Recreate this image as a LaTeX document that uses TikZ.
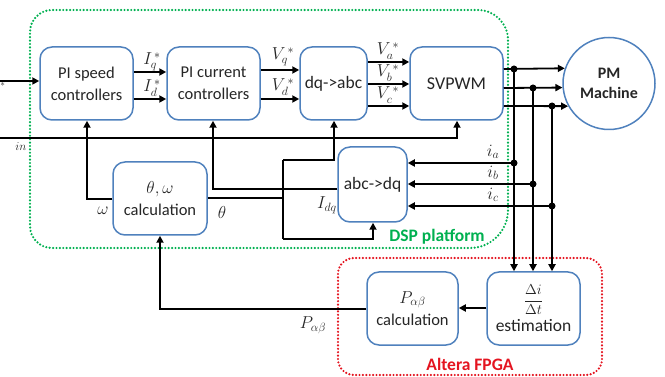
\documentclass[tikz,border=0pt]{standalone}
\usepackage{fontspec}
\setmainfont{Carlito}
\usetikzlibrary{arrows.meta}
\definecolor{boxblue}{RGB}{79,129,189}
\definecolor{dspgreen}{RGB}{0,176,80}
\definecolor{fpgared}{RGB}{228,20,32}
\definecolor{txt}{RGB}{38,38,38}
\begin{document}
\begin{tikzpicture}[x=1pt,y=-1pt,
  blk/.style={draw=boxblue, line width=1.5pt, rounded corners=12pt, fill=white,
    align=center, inner sep=0pt, text=txt, font=\fontsize{16.5}{22}\selectfont},
  arr/.style={line width=1.8pt, -{Triangle[length=7pt,width=7pt]}},
  ln/.style={line width=1.8pt},
  lab/.style={font=\fontsize{17}{19}\selectfont, inner sep=0pt, text=txt},
  jdot/.style={circle, fill=black, inner sep=0pt, minimum size=7pt},
  dsp/.style={dspgreen, line width=2.4pt, line cap=round, dash pattern=on 0pt off 3.4pt},
  fpga/.style={fpgared, line width=2.4pt, line cap=round, dash pattern=on 0pt off 3.4pt},
  grp/.style={font=\fontsize{17.5}{20}\selectfont\bfseries, inner sep=0pt}]
\useasboundingbox (0,0) rectangle (665,377);

% group frames
\draw[dsp] (30,100) [rounded corners=22pt] -- (30,10) [rounded corners=30pt] -- (508,10)
  [rounded corners=38pt] -- (508,248) [rounded corners=22pt] -- (30,248) -- cycle;
\draw[fpga, rounded corners=16pt] (338,258) rectangle (602,375);
\node[grp, text=dspgreen] (dsplab) at (437,237) {DSP platform};
\node[grp, text=fpgared] (fpgalab) at (470,364) {Altera FPGA};

% blocks
\node[blk, minimum width=93pt, minimum height=73pt] (ps) at (86.5,83.5) {PI speed\\controllers};
\node[blk, minimum width=93pt, minimum height=73pt] (pc) at (213.5,83.5) {PI current\\controllers};
\node[blk, minimum width=67pt, minimum height=73pt, font=\fontsize{17.5}{22}\selectfont] (dq) at (333.5,83.5) {dq->abc};
\node[blk, minimum width=93pt, minimum height=73pt, font=\fontsize{18}{22}\selectfont] (sv) at (456.5,83.5) {SVPWM};
\node[blk, circle, minimum size=92pt, font=\fontsize{16}{20}\selectfont\bfseries] (pm) at (609,83.5) {PM\\Machine};
\node[blk, minimum width=94pt, minimum height=73pt] (tw) at (160,198.5) {$\theta,\omega$\\calculation};
\node[blk, minimum width=69pt, minimum height=75pt, font=\fontsize{17.5}{22}\selectfont] (ad) at (372.5,184.5) {abc->dq};
\node[blk, minimum width=91pt, minimum height=73pt] (pcal) at (412.5,308.5) {$P_{\alpha\beta}$\\calculation};
\node[blk, minimum width=93pt, minimum height=73pt, font=\fontsize{17.5}{21}\selectfont] (est) at (533.5,308.5) {{\fontsize{14}{14}\selectfont$\displaystyle\frac{\Delta i}{\Delta t}$}\\[4pt]estimation};

% coordinates
\coordinate (win) at (0,81);
\coordinate (vin) at (0,138);
\coordinate (d1) at (514,69);
\coordinate (d2) at (533,88);
\coordinate (d3) at (552,106);
\coordinate (ja) at (514,163);
\coordinate (jb) at (533,184);
\coordinate (jc) at (552,206);
\coordinate (tj) at (283,198);
\coordinate (tt) at (283,160);
\coordinate (tb) at (283,239);

% forward path
\draw[arr] (win) -- (ps.west |- win);
\draw[arr] (ps.east |- 0,72) -- (pc.west |- 0,72);
\draw[arr] (ps.east |- 0,99) -- (pc.west |- 0,99);
\draw[arr] (pc.east |- 0,70) -- (dq.west |- 0,70);
\draw[arr] (pc.east |- 0,99) -- (dq.west |- 0,99);
\draw[arr] (dq.east |- 0,62) -- (sv.west |- 0,62);
\draw[arr] (dq.east |- 0,84) -- (sv.west |- 0,84);
\draw[arr] (dq.east |- 0,106) -- (sv.west |- 0,106);
\draw[arr] (sv.east |- d1) -- (pm.161.6);
\draw[arr] (sv.east |- d2) -- (pm.185.6);
\draw[arr] (sv.east |- d3) -- (pm.209.3);

% current sensing
\draw[arr] (d1) -- (d1 |- est.north);
\draw[arr] (d2) -- (d2 |- est.north);
\draw[arr] (d3) -- (d3 |- est.north);
\draw[arr] (ja) -- (ad.east |- ja);
\draw[arr] (jb) -- (ad.east |- jb);
\draw[arr] (jc) -- (ad.east |- jc);
\foreach \p in {d1,d2,d3,ja,jb,jc} \node[jdot] at (\p) {};

% FPGA path
\draw[arr] (est.west |- 0,308) -- (pcal.east |- 0,308);
\draw[arr] (pcal.west |- 0,309) -- (tw.south |- 0,309) -- (tw.south);

% feedback
\draw[arr] (tw.west |- 0,199) -- (87,199) -- (ps.south -| 87,0);
\draw[ln] (tw.east |- tj) -- (tj);
\draw[ln] (tt) -- (tb);
\draw[arr] (tt) -- (334,160) -- (dq.south -| 334,0);
\draw[arr] (tb) -- (373,239) -- (ad.south -| 373,0);
\draw[arr] (ad.west |- 0,189) -- (213,189) -- (pc.south -| 213,0);
\draw[arr] (vin) -- (457,138) -- (sv.south -| 457,0);

% labels
\node[lab, font=\fontsize{13}{13}\selectfont] (wl) at (3,87) {$^*$};
\node[lab, font=\fontsize{12}{13}\selectfont] (inl) at (21,147) {$in$};
\node[lab] (iq) at (152,62) {$I_q^{\,*}$};
\node[lab] (id) at (152,88) {$I_d^{\,*}$};
\node[lab] (vq) at (283,57) {$V_q^{\,*}$};
\node[lab] (vd) at (283,87) {$V_d^{\,*}$};
\node[lab] (va) at (388,51) {$V_a^{\,*}$};
\node[lab] (vb) at (388,73) {$V_b^{\,*}$};
\node[lab] (vc) at (388,95) {$V_c^{\,*}$};
\node[lab] (ial) at (493,152) {$i_a$};
\node[lab] (ibl) at (493,173) {$i_b$};
\node[lab] (icl) at (493,195) {$i_c$};
\node[lab] (wlb) at (103,211) {$\omega$};
\node[lab] (thl) at (222,213) {$\theta$};
\node[lab] (idq) at (327,205) {$I_{dq}$};
\node[lab] (pab) at (313,325) {$P_{\alpha\beta}$};
\end{tikzpicture}
\end{document}
